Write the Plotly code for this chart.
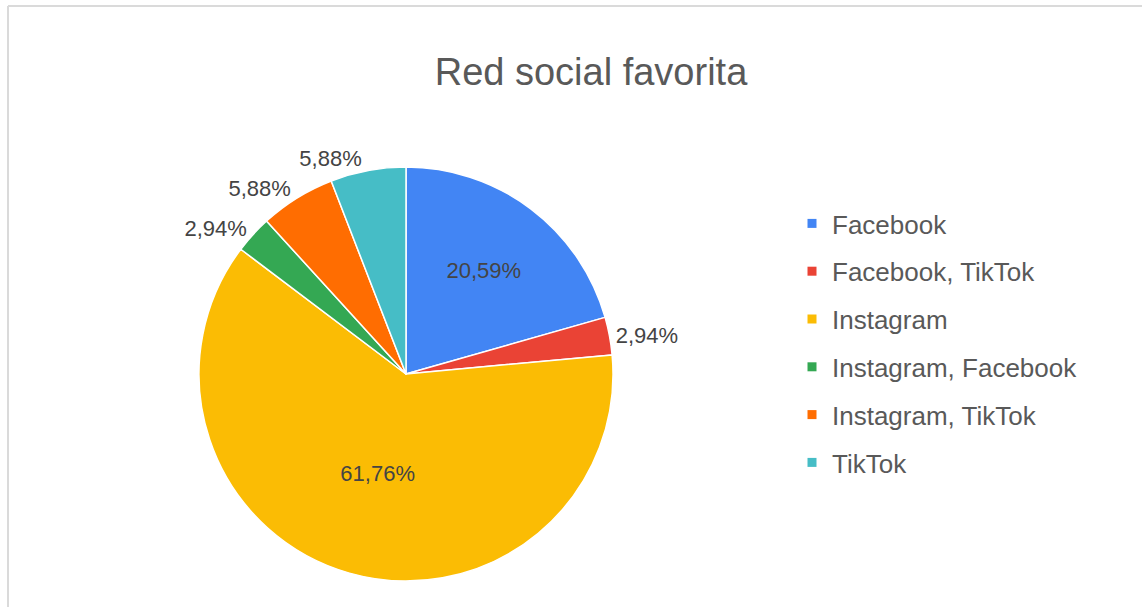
import plotly.graph_objects as go

labels = ["Facebook", "Facebook, TikTok", "Instagram", "Instagram, Facebook", "Instagram, TikTok", "TikTok"]
values = [7, 1, 21, 1, 2, 2]
colors = ["#4285F4", "#EA4335", "#FBBC04", "#34A853", "#FF6D01", "#46BDC6"]
text_positions = ["inside", "outside", "inside", "outside", "outside", "outside"]
title_text = "Red social favorita"

W, H = 1142, 607
cx, cy, r = 406, 374, 207

fig = go.Figure()
fig.add_trace(go.Pie(
    labels=labels,
    values=values,
    sort=False,
    direction="clockwise",
    rotation=0,
    marker=dict(colors=colors, line=dict(color="white", width=1.5)),
    textposition=text_positions,
    texttemplate="%{percent:.2%}",
    insidetextorientation="horizontal",
    textfont=dict(family="Liberation Sans, Arial", size=22, color="#444444"),
    showlegend=False,
    domain=dict(x=[(cx - r) / W, (cx + r) / W], y=[(H - cy - r) / H, (H - cy + r) / H]),
))

# legend entries built from the same labels/colors
for lab, col in zip(labels, colors):
    fig.add_trace(go.Scatter(
        x=[None], y=[None], mode="markers", name=lab, legendgroup=lab,
        marker=dict(symbol="square", size=9, color=col),
        showlegend=True, hoverinfo="skip",
    ))

fig.update_layout(
    width=W, height=H,
    margin=dict(l=0, r=0, t=0, b=0),
    paper_bgcolor="white", plot_bgcolor="white",
    separators=",.",
    uniformtext=dict(minsize=22, mode="show"),
    title=dict(text=title_text, x=591 / W, xanchor="center", y=1 - 72 / H, yanchor="middle",
               font=dict(family="Liberation Sans, Arial", size=38, color="#595959")),
    xaxis=dict(visible=False), yaxis=dict(visible=False),
    legend=dict(x=792 / W, y=1 - 200 / H, xanchor="left", yanchor="top",
                font=dict(family="Liberation Sans, Arial", size=26, color="#595959"),
                tracegroupgap=11, itemwidth=30, bgcolor="rgba(0,0,0,0)"),
    shapes=[
        dict(type="line", xref="paper", yref="paper", x0=8 / W, x1=1, y0=1 - 6 / H, y1=1 - 6 / H,
             line=dict(color="#DADADA", width=2)),
        dict(type="line", xref="paper", yref="paper", x0=8 / W, x1=8 / W, y0=0, y1=1 - 6 / H,
             line=dict(color="#DADADA", width=2)),
    ],
)

fig.write_html("out.html")
